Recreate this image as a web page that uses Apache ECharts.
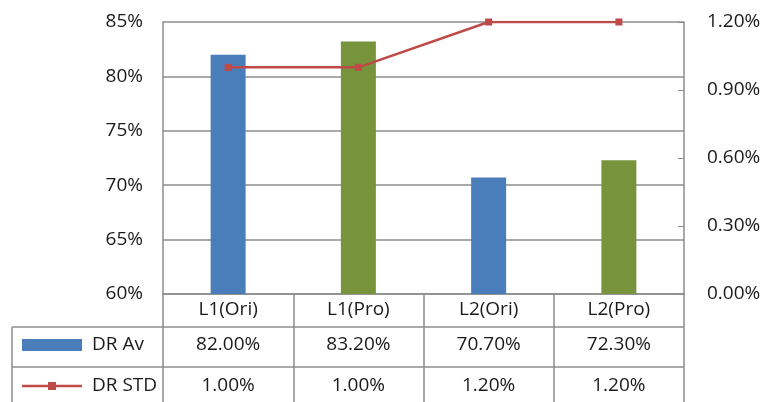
<!DOCTYPE html>
<html>
<head>
<meta charset="utf-8">
<script src="https://cdn.jsdelivr.net/npm/echarts@6/dist/echarts.min.js"></script>
<style>
  html, body { margin: 0; padding: 0; background: #fff; }
  #chart { width: 764px; height: 402px; }
</style>
</head>
<body>
<div id="chart"></div>
<script>
// Categories and values (percent units)
const categories = ['L1(Ori)', 'L1(Pro)', 'L2(Ori)', 'L2(Pro)'];
const drAv = [82.00, 83.20, 70.70, 72.30];
const drStd = [1.00, 1.00, 1.20, 1.20];
const seriesNames = ['DR Av', 'DR STD'];

const FONT = '"Open Sans", sans-serif';
const FS = 19;
const TXT = '#1a1a1a';
const LINE = '#8c8c8c';
const BLUE = '#4A7EBB';
const GREEN = '#77933C';
const RED = '#BE4B48';

const fmt2 = v => v.toFixed(2) + '%';

// grid box in pixels
const G = { left: 163, right: 80, top: 22, bottom: 108 };
const W = 764, H = 402;
const gx0 = G.left, gx1 = W - G.right, gy1 = H - G.bottom;
const tableLeft = 12;
const row1Bottom = 327, row2Bottom = 367;
const row2Mid = 345, row3Mid = 386;

const chart = echarts.init(document.getElementById('chart'), null, { renderer: 'canvas' });

const hideAxis = {
  axisLine: { show: false }, axisTick: { show: false }, splitLine: { show: false }
};

const option = {
  animation: false,
  backgroundColor: '#fff',
  textStyle: { fontFamily: FONT },
  grid: { left: G.left, right: G.right, top: G.top, bottom: G.bottom, containLabel: false },
  xAxis: [
    {
      type: 'category',
      data: categories,
      axisLine: { show: true, lineStyle: { color: LINE, width: 1.5 } },
      axisTick: { show: true, length: H - gy1, lineStyle: { color: LINE, width: 1.5 } },
      axisLabel: { interval: 0, margin: 16, verticalAlign: 'middle', color: TXT, fontSize: FS, fontFamily: FONT },
      splitLine: { show: false }
    },
    Object.assign({
      type: 'category', position: 'bottom',
      data: drAv.map(fmt2),
      axisLabel: { interval: 0, margin: row2Mid - gy1, verticalAlign: 'middle', color: TXT, fontSize: FS, fontFamily: FONT }
    }, hideAxis),
    Object.assign({
      type: 'category', position: 'bottom',
      data: drStd.map(fmt2),
      axisLabel: { interval: 0, margin: row3Mid - gy1, verticalAlign: 'middle', color: TXT, fontSize: FS, fontFamily: FONT }
    }, hideAxis)
  ],
  yAxis: [
    {
      type: 'value', min: 60, max: 85, interval: 5,
      axisLine: { show: true, lineStyle: { color: LINE, width: 1.5 } },
      axisTick: { show: false },
      axisLabel: { formatter: v => v + '%', margin: 20, color: TXT, fontSize: FS, fontFamily: FONT },
      splitLine: { show: true, lineStyle: { color: LINE, width: 1.5 } }
    },
    {
      type: 'value', min: 0, max: 1.2, interval: 0.3, position: 'right',
      axisLine: { show: true, lineStyle: { color: LINE, width: 1.5 } },
      axisTick: { show: true, inside: true, length: 6, lineStyle: { color: LINE, width: 1 } },
      axisLabel: { formatter: v => v.toFixed(2) + '%', margin: 23, color: TXT, fontSize: FS, fontFamily: FONT },
      splitLine: { show: false }
    }
  ],
  series: [
    {
      name: seriesNames[0],
      type: 'bar',
      xAxisIndex: 0, yAxisIndex: 0,
      barWidth: 35,
      data: drAv,
      itemStyle: { color: p => (p.dataIndex % 2 ? GREEN : BLUE) }
    },
    {
      name: seriesNames[1],
      type: 'line',
      xAxisIndex: 0, yAxisIndex: 1,
      data: drStd,
      symbol: 'rect', symbolSize: 7,
      lineStyle: { color: RED, width: 2.5 },
      itemStyle: { color: RED }
    }
  ],
  graphic: [
    // data table frame
    { type: 'line', shape: { x1: tableLeft, y1: row1Bottom, x2: gx1, y2: row1Bottom }, style: { stroke: LINE, lineWidth: 1.5 } },
    { type: 'line', shape: { x1: tableLeft, y1: row2Bottom, x2: gx1, y2: row2Bottom }, style: { stroke: LINE, lineWidth: 1.5 } },
    { type: 'line', shape: { x1: tableLeft, y1: row1Bottom, x2: tableLeft, y2: H }, style: { stroke: LINE, lineWidth: 1.5 } },
    // legend keys inside the table
    { type: 'rect', shape: { x: 22, y: row2Mid - 6, width: 60, height: 12 }, style: { fill: BLUE } },
    { type: 'text', x: 92, y: row2Mid, style: { text: seriesNames[0], fill: TXT, font: FS + 'px ' + FONT, textVerticalAlign: 'middle', verticalAlign: 'middle' } },
    { type: 'line', shape: { x1: 22, y1: row3Mid, x2: 82, y2: row3Mid }, style: { stroke: RED, lineWidth: 2.5 } },
    { type: 'rect', shape: { x: 52 - 4, y: row3Mid - 4, width: 8, height: 8 }, style: { fill: RED } },
    { type: 'text', x: 92, y: row3Mid, style: { text: seriesNames[1], fill: TXT, font: FS + 'px ' + FONT, textVerticalAlign: 'middle', verticalAlign: 'middle' } }
  ]
};

chart.setOption(option);
</script>
</body>
</html>
